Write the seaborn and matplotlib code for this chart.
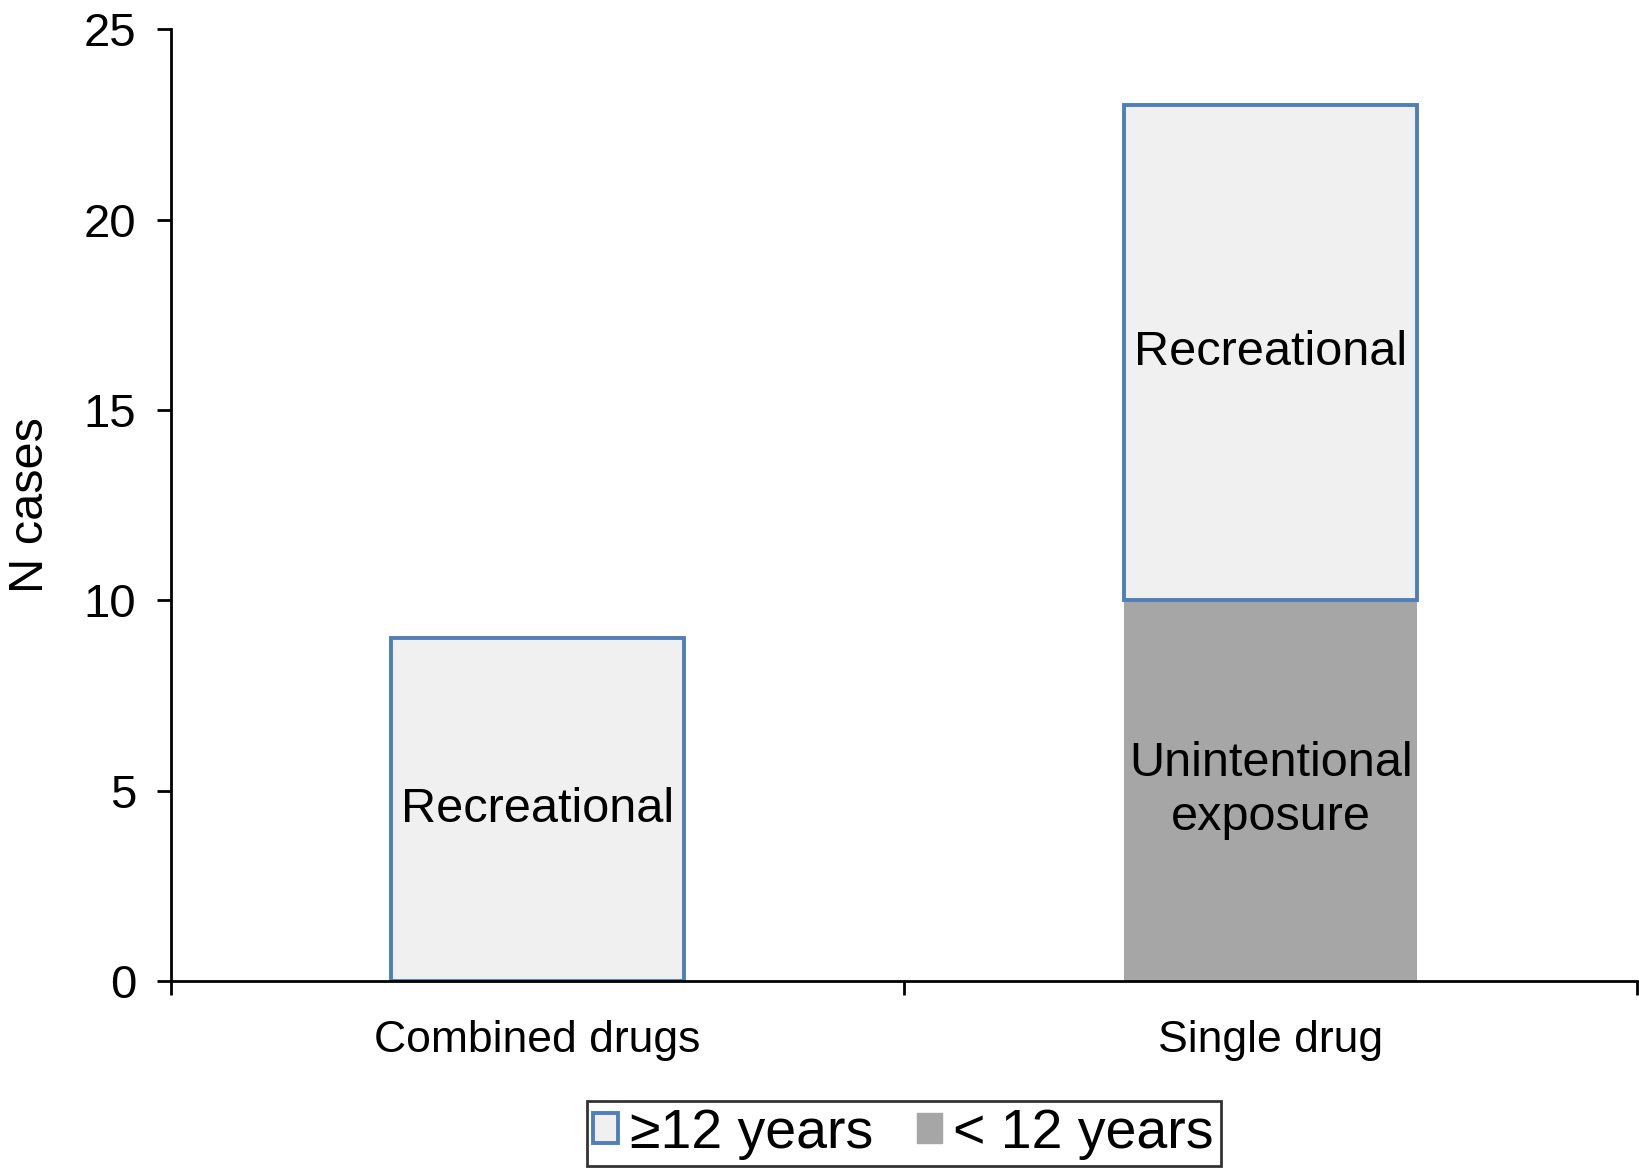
import matplotlib
matplotlib.use("Agg")
import matplotlib.pyplot as plt
from matplotlib.patches import Patch
import seaborn as sns
import pandas as pd

# data
categories = ["Combined drugs", "Single drug"]
under_12 = [0, 10]      # < 12 years (unintentional exposure)
over_12 = [9, 13]       # >= 12 years (recreational), stacked on top
series_labels = ["\u226512 years", "< 12 years"]
y_ticks = [0, 5, 10, 15, 20, 25]

light_fill = "#F0F0F0"
blue_edge = "#4F7FB8"
gray_fill = "#A6A6A6"

sns.set_style("white")
plt.rcParams["font.family"] = ["Liberation Sans", "DejaVu Sans"]
plt.rcParams["text.color"] = "black"
plt.rcParams["axes.labelcolor"] = "black"
plt.rcParams["xtick.color"] = "black"
plt.rcParams["ytick.color"] = "black"

df = pd.DataFrame({"category": categories, "under": under_12, "over": over_12})

fig = plt.figure(figsize=(16.4, 11.68), dpi=100)
ax = fig.add_axes([0.1043, 0.160, 0.894, 0.815])

# bottom layer (<12 years)
sns.barplot(data=df, x="category", y="under", color=gray_fill, width=0.4,
            saturation=1, linewidth=0, ax=ax)
# top layer (>=12 years) stacked on the <12 values
sns.barplot(data=df, x="category", y="over", color=light_fill, width=0.4,
            saturation=1, edgecolor=blue_edge, linewidth=2.8,
            bottom=df["under"].values, ax=ax)

# text inside the bars
ax.text(0, over_12[0] / 2, "Recreational", ha="center", va="center", fontsize=35)
ax.text(1, under_12[1] + over_12[1] / 2, "Recreational", ha="center", va="center", fontsize=35)
ax.text(1, under_12[1] / 2, "Unintentional\nexposure", ha="center", va="center",
        fontsize=35, linespacing=1.25)

ax.set_xlim(-0.5, 1.5)
ax.set_ylim(0, 25)
ax.set_yticks(y_ticks)
ax.set_xlabel("")
ax.set_ylabel("N cases", fontsize=35, labelpad=22)

sns.despine(ax=ax)
for side in ["left", "bottom"]:
    ax.spines[side].set_color("black")
    ax.spines[side].set_linewidth(2)

ax.tick_params(axis="y", direction="out", length=10, width=2, labelsize=34, pad=15, left=True)
ax.tick_params(axis="x", which="major", length=0, labelsize=32, pad=28)
ax.set_xticks([-0.5, 0.5, 1.5], minor=True)
ax.tick_params(axis="x", which="minor", direction="out", length=10, width=2, bottom=True)

handles = [Patch(facecolor=light_fill, edgecolor=blue_edge, linewidth=2.8),
           Patch(facecolor=gray_fill, edgecolor=gray_fill)]
leg = fig.legend(handles, series_labels, loc="lower center", bbox_to_anchor=(0.551, 0.0),
                 ncol=2, fontsize=40, frameon=True, fancybox=False, handlelength=0.45,
                 handleheight=0.45, handletextpad=0.2, columnspacing=0.8,
                 borderpad=0.12, borderaxespad=0.03)
leg.get_frame().set_edgecolor("black")
leg.get_frame().set_linewidth(2)

fig.savefig("out.png", dpi=100)
